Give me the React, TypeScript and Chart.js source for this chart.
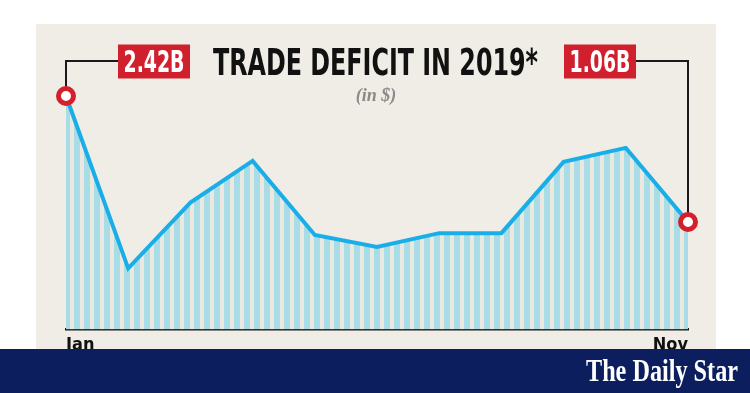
import React, { useEffect, useRef } from "react";
import { Chart, registerables } from "chart.js";

Chart.register(...registerables);

const months = ["Jan", "Feb", "Mar", "Apr", "May", "Jun", "Jul", "Aug", "Sep", "Oct", "Nov"];
const deficit = [2.42, 0.56, 1.27, 1.72, 0.92, 0.79, 0.94, 0.94, 1.71, 1.86, 1.06];
const titleText = "TRADE DEFICIT IN 2019*";
const subtitleText = "(in $)";
const logoText = "The Daily Star";

const CONDENSED = "'Liberation Sans Narrow', 'DejaVu Sans Condensed', 'Liberation Sans', sans-serif";

function fitText(ctx: CanvasRenderingContext2D, text: string, x: number, y: number, width: number, align: "left" | "center" | "right") {
  const w = ctx.measureText(text).width;
  const sx = width / w;
  ctx.save();
  let ox = x;
  if (align === "center") ox = x - width / 2;
  if (align === "right") ox = x - width;
  ctx.translate(ox, y);
  ctx.scale(sx, 1);
  ctx.textAlign = "left";
  ctx.fillText(text, 0, 0);
  ctx.restore();
}

const decorPlugin = {
  id: "decor",
  beforeDraw(chart: any) {
    const ctx = chart.ctx as CanvasRenderingContext2D;
    ctx.save();
    ctx.fillStyle = "#ffffff";
    ctx.fillRect(0, 0, chart.width, chart.height);
    ctx.fillStyle = "#efede5";
    ctx.fillRect(36, 24, 680, 330);
    ctx.restore();
  },
  beforeDatasetsDraw(chart: any) {
    const ctx = chart.ctx as CanvasRenderingContext2D;
    const pts = chart.getDatasetMeta(0).data;
    const first = pts[0];
    const last = pts[pts.length - 1];
    ctx.save();
    ctx.strokeStyle = "#1a1a1a";
    ctx.lineWidth = 2;
    ctx.beginPath();
    ctx.moveTo(first.x, first.y - 8);
    ctx.lineTo(first.x, 61);
    ctx.lineTo(120, 61);
    ctx.moveTo(634, 61);
    ctx.lineTo(last.x, 61);
    ctx.lineTo(last.x, last.y - 8);
    ctx.stroke();
    ctx.restore();
  },
  afterDraw(chart: any) {
    const ctx = chart.ctx as CanvasRenderingContext2D;
    ctx.save();
    // title
    ctx.fillStyle = "#111111";
    ctx.textBaseline = "alphabetic";
    ctx.font = `bold 38px ${CONDENSED}`;
    fitText(ctx, titleText, 375.5, 75, 325, "center");
    // subtitle
    ctx.fillStyle = "#8a8a8a";
    ctx.font = "bold italic 18px 'Liberation Serif', 'DejaVu Serif', serif";
    ctx.textAlign = "center";
    ctx.fillText(subtitleText, 376, 101);
    // value boxes
    const boxes = [
      { x: 118, text: `${deficit[0].toFixed(2)}B` },
      { x: 564, text: `${deficit[deficit.length - 1].toFixed(2)}B` },
    ];
    for (const b of boxes) {
      ctx.fillStyle = "#d0202e";
      ctx.fillRect(b.x, 44.5, 72, 34);
      ctx.fillStyle = "#ffffff";
      ctx.font = `bold 30px ${CONDENSED}`;
      fitText(ctx, b.text, b.x + 36, 72, 61, "center");
    }
    // footer bar
    ctx.fillStyle = "#0c1e5d";
    ctx.fillRect(0, 349, chart.width, chart.height - 349);
    ctx.fillStyle = "#ffffff";
    ctx.font = "bold 31px 'Liberation Serif', 'DejaVu Serif', serif";
    fitText(ctx, logoText, 738, 381, 152, "right");
    ctx.restore();
  },
};

export default function App() {
  const canvasRef = useRef<HTMLCanvasElement | null>(null);

  useEffect(() => {
    if (!canvasRef.current) return;
    const pc = document.createElement("canvas");
    pc.width = 10;
    pc.height = 4;
    const pctx = pc.getContext("2d")!;
    pctx.fillStyle = "#ebe9df";
    pctx.fillRect(0, 0, 10, 4);
    pctx.fillStyle = "#a8dde7";
    pctx.fillRect(4, 0, 6, 4);
    const pattern = pctx.createPattern(pc, "repeat") as CanvasPattern;

    const lastIdx = deficit.length - 1;
    const chart = new Chart(canvasRef.current, {
      type: "line",
      data: {
        labels: months,
        datasets: [
          {
            data: deficit,
            borderColor: "#19aee8",
            borderWidth: 4,
            tension: 0,
            fill: "start",
            backgroundColor: pattern,
            clip: false as any,
            pointRadius: (c: any) => (c.dataIndex === 0 || c.dataIndex === lastIdx ? 7.5 : 0),
            pointHoverRadius: (c: any) => (c.dataIndex === 0 || c.dataIndex === lastIdx ? 7.5 : 0),
            pointBorderWidth: 5,
            pointBorderColor: "#d3202c",
            pointBackgroundColor: "#ffffff",
          },
        ],
      },
      options: {
        animation: false,
        responsive: true,
        maintainAspectRatio: false,
        layout: { padding: { left: 66, right: 62, top: 42.3, bottom: 33.5 } },
        plugins: { legend: { display: false }, tooltip: { enabled: false }, title: { display: false } },
        scales: {
          x: {
            grid: { display: false, drawTicks: false },
            border: { display: true, color: "#1a1a1a", width: 2.5 },
            afterFit: (axis: any) => {
              axis.height = 30;
            },
            ticks: {
              autoSkip: false,
              maxRotation: 0,
              align: "inner",
              padding: 5,
              color: "#111111",
              font: { family: CONDENSED, size: 18, weight: "bold" },
              callback: (_v: any, i: number) => (i === 0 || i === lastIdx ? months[i] : ""),
            },
          },
          y: { display: false, min: -0.1, max: 3.0 },
        },
      },
      plugins: [decorPlugin],
    });
    return () => chart.destroy();
  }, []);

  return (
    <div style={{ position: "fixed", left: 0, top: 0, width: 750, height: 393 }}>
      <canvas ref={canvasRef} />
    </div>
  );
}
